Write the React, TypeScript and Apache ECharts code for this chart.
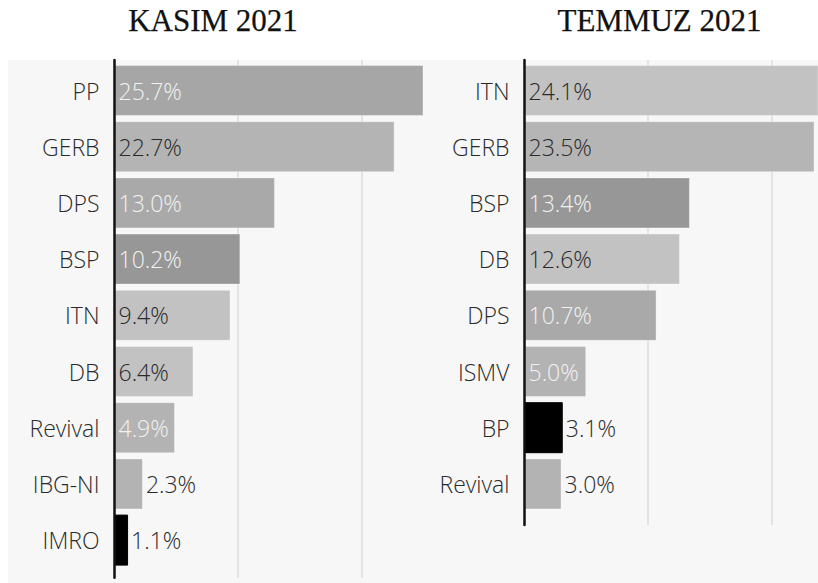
import React, { useEffect, useRef } from "react";
import * as echarts from "echarts";

const leftTitle = "KASIM 2021";
const rightTitle = "TEMMUZ 2021";

const leftCategories = ["PP", "GERB", "DPS", "BSP", "ITN", "DB", "Revival", "IBG-NI", "IMRO"];
const leftValues = [25.7, 22.7, 13.0, 10.2, 9.4, 6.4, 4.9, 2.3, 1.1];
const leftColors = ["#a6a6a6", "#b4b4b4", "#a9a9a9", "#979797", "#c2c2c2", "#c2c2c2", "#b3b3b3", "#b3b3b3", "#000000"];
const leftLabelLight = [true, false, true, true, false, false, true, false, false];

const rightCategories = ["ITN", "GERB", "BSP", "DB", "DPS", "ISMV", "BP", "Revival"];
const rightValues = [24.1, 23.5, 13.4, 12.6, 10.7, 5.0, 3.1, 3.0];
const rightColors = ["#c2c2c2", "#b5b5b5", "#979797", "#c2c2c2", "#a9a9a9", "#b3b3b3", "#000000", "#b3b3b3"];
const rightLabelLight = [false, false, true, false, true, true, false, false];

const SANS = "'Open Sans'";

function buildData(values: number[], colors: string[], light: boolean[]) {
  return values.map((v, i) => {
    const outside = v < 4;
    const black = colors[i] === "#000000";
    return {
      value: v,
      itemStyle: {
        color: colors[i],
        borderColor: black ? "#000000" : "rgba(255,255,255,0.35)",
        borderWidth: 1,
      },
      label: {
        show: true,
        position: outside ? "right" : "insideLeft",
        distance: outside ? 3 : 4,
        color: light[i] && !outside ? "#f2f2f2" : "#2a2a2a",
      },
    };
  });
}

export default function App() {
  const ref = useRef<HTMLDivElement>(null);
  useEffect(() => {
    if (!ref.current) return;
    const chart = echarts.init(ref.current, undefined, { renderer: "svg" });
    const leftL = 114.5, leftW = 308.5;
    const rightL = 524.5, rightW = 293.5;
    const band = 56.2;
    const barsTop = 62.4;
    const leftMax = 25;
    const rightMax = 23.78;
    const labelFont = { fontFamily: SANS, fontSize: 23, fontWeight: 300 as any };

    const frameX = (max: number) => ({
      type: "value",
      min: 0,
      max,
      interval: 10,
      axisLine: { show: false },
      axisTick: { show: false },
      axisLabel: { show: false },
      splitLine: {
        show: true,
        showMinLine: false,
        showMaxLine: false,
        lineStyle: { color: "#e3e3e3", width: 2 },
      },
    });
    const frameY = () => ({
      type: "value",
      min: 0,
      max: 1,
      z: 5,
      axisLine: { show: true, onZero: false, lineStyle: { color: "#111111", width: 2.5 } },
      axisTick: { show: false },
      axisLabel: { show: false },
      splitLine: { show: false },
    });
    const barX = (max: number) => ({
      type: "value",
      min: 0,
      max,
      show: false,
    });
    const barY = (cats: string[]) => ({
      type: "category",
      data: cats,
      inverse: true,
      axisLine: { show: false },
      axisTick: { show: false },
      splitLine: { show: false },
      axisLabel: { color: "#2a2a2a", margin: 15, ...labelFont },
    });
    const titleStyle = (text: string) => ({
      text,
      align: "center",
      verticalAlign: "middle",
      font: "31px 'Liberation Serif'",
      fill: "#111111",
      stroke: "#111111",
      lineWidth: 0.25,
    });

    chart.setOption({
      animation: false,
      backgroundColor: "#ffffff",
      graphic: [
        {
          type: "rect",
          z: -10,
          shape: { x: 8, y: 60, width: 810, height: 523 },
          style: { fill: "#f7f7f7" },
        },
        { type: "text", x: 213, y: 20, style: titleStyle(leftTitle) },
        { type: "text", x: 659.5, y: 20, style: titleStyle(rightTitle) },
      ],
      grid: [
        { left: leftL, width: leftW, top: barsTop, height: band * leftCategories.length },
        { left: leftL, width: leftW, top: 60, height: 517.7 },
        { left: rightL, width: rightW, top: barsTop, height: band * rightCategories.length },
        { left: rightL, width: rightW, top: 60, height: 465 },
      ],
      xAxis: [
        { gridIndex: 0, ...barX(leftMax) },
        { gridIndex: 1, ...frameX(leftMax) },
        { gridIndex: 2, ...barX(rightMax) },
        { gridIndex: 3, ...frameX(rightMax) },
      ],
      yAxis: [
        { gridIndex: 0, ...barY(leftCategories) },
        { gridIndex: 1, ...frameY() },
        { gridIndex: 2, ...barY(rightCategories) },
        { gridIndex: 3, ...frameY() },
      ],
      series: [
        {
          type: "bar",
          xAxisIndex: 0,
          yAxisIndex: 0,
          barWidth: 51,
          clip: true,
          data: buildData(leftValues, leftColors, leftLabelLight),
          label: {
            show: true,
            formatter: (p: any) => p.value.toFixed(1) + "%",
            ...labelFont,
          },
        },
        {
          type: "bar",
          xAxisIndex: 2,
          yAxisIndex: 2,
          barWidth: 51,
          clip: true,
          data: buildData(rightValues, rightColors, rightLabelLight),
          label: {
            show: true,
            formatter: (p: any) => p.value.toFixed(1) + "%",
            ...labelFont,
          },
        },
      ],
    });
    return () => chart.dispose();
  }, []);
  return (
    <div
      ref={ref}
      style={{ position: "fixed", left: 0, top: 0, width: 818, height: 583 }}
    />
  );
}
